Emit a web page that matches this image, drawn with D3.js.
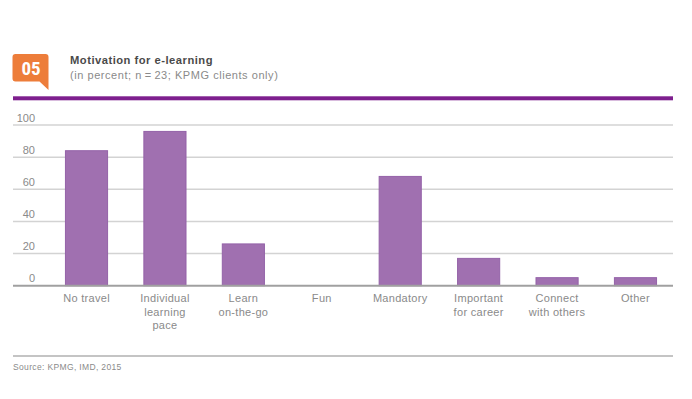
<!DOCTYPE html>
<html><head><meta charset="utf-8">
<script src="https://cdn.jsdelivr.net/npm/d3@7"></script>
<style>
html,body{margin:0;padding:0;background:#fff;}
svg{display:block;font-family:"Liberation Sans",Arial,sans-serif;}
</style></head>
<body>
<svg id="chart" width="692" height="399"></svg>
<script>
const categories = [["No travel"],["Individual","learning","pace"],["Learn","on-the-go"],["Fun"],["Mandatory"],["Important","for career"],["Connect","with others"],["Other"]];
const values = [84, 96, 26, 0, 68, 17, 5, 5];
const yTicks = [0, 20, 40, 60, 80, 100];
const badgeText = "05";
const title = "Motivation for e-learning";
const subtitle = "(in percent; n\u2009=\u200923; KPMG clients only)";
const source = "Source: KPMG, IMD, 2015";

const svg = d3.select("#chart");
const left = 13, right = 673;

// badge
const bx0 = 12.5, bx1 = 48.5, by0 = 54, by1 = 81.5, r = 3;
svg.append("path")
  .attr("d", `M${bx0+r},${by0} L${bx1-r},${by0} Q${bx1},${by0} ${bx1},${by0+r} L${bx1},${by1+8.5} L${bx1-9},${by1} L${bx0+r},${by1} Q${bx0},${by1} ${bx0},${by1-r} L${bx0},${by0+r} Q${bx0},${by0} ${bx0+r},${by0} Z`)
  .attr("fill", "#ED7D3A");
svg.append("text").attr("x", 31).attr("y", 74.5).attr("text-anchor","middle")
  .attr("font-family","'Liberation Sans Narrow','Roboto Condensed',sans-serif")
  .attr("font-weight","bold").attr("font-size",19).attr("fill","#fff").text(badgeText);

svg.append("text").attr("x",70).attr("y",64).attr("font-weight","bold").attr("font-size",11.2)
  .attr("letter-spacing",0.5).attr("fill","#4a4a4a").text(title);
svg.append("text").attr("x",70).attr("y",79).attr("font-size",11)
  .attr("letter-spacing",0.55).attr("fill","#8a8a8a").text(subtitle);

svg.append("rect").attr("x",left).attr("y",96.3).attr("width",right-left).attr("height",4)
  .attr("fill","#7E1F8E");

// scales
const y = d3.scaleLinear().domain([0,100]).range([285.7,125]);
const x = d3.scaleBand().domain(d3.range(categories.length)).range([47.3,674.7])
  .paddingInner(0.45).paddingOuter(0.225);

// gridlines
svg.append("g").selectAll("line").data(yTicks.filter(d=>d>0)).join("line")
  .attr("x1",left).attr("x2",right).attr("y1",d=>y(d)).attr("y2",d=>y(d))
  .attr("stroke","#d3d3d3").attr("stroke-width",1.5);

// y axis labels
const yAxis = d3.axisLeft(y).tickValues(yTicks).tickSize(0).tickPadding(0);
const ga = svg.append("g").attr("transform","translate(35,0)").call(yAxis);
ga.select(".domain").remove();
ga.selectAll("text").attr("font-size",11).attr("fill","#8a8a8a")
  .attr("font-family","'Liberation Sans',Arial,sans-serif")
  .attr("dy","-0.35em");

// bars
svg.append("g").selectAll("rect").data(values).join("rect")
  .attr("x",(d,i)=>x(i)+0.5).attr("width",x.bandwidth()-1)
  .attr("y",d=>y(d)).attr("height",d=>y(0)-y(d))
  .attr("fill","#A070B0").attr("stroke","#9462A8").attr("stroke-width",1);

// baseline
svg.append("line").attr("x1",left).attr("x2",right).attr("y1",y(0)).attr("y2",y(0))
  .attr("stroke","#a0a0a0").attr("stroke-width",2);

// category labels
const lab = svg.append("g").selectAll("text").data(categories).join("text")
  .attr("text-anchor","middle").attr("font-size",11).attr("letter-spacing",0.3).attr("fill","#8a8a8a")
  .attr("transform",(d,i)=>`translate(${x(i)+x.bandwidth()/2},302)`);
lab.selectAll("tspan").data(d=>d).join("tspan")
  .attr("x",0).attr("y",(d,j)=>j*13.5).text(d=>d);

// bottom rule and source
svg.append("line").attr("x1",left).attr("x2",right).attr("y1",356).attr("y2",356)
  .attr("stroke","#b0b0b0").attr("stroke-width",1.5);
svg.append("text").attr("x",13).attr("y",370).attr("font-size",8.5).attr("letter-spacing",0.35)
  .attr("fill","#8a8a8a").text(source);
</script>
</body></html>
